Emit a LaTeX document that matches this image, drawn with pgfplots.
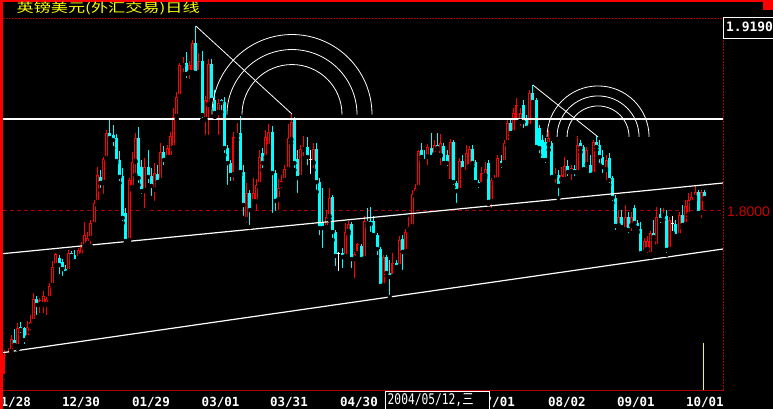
\documentclass[border=0pt]{standalone}
\usepackage{pgfplots}
\pgfplotsset{compat=1.18}
\usepackage{pgfplotstable}
\usepackage{graphicx}
\usepackage{fontspec}
\newfontfamily\mono{DejaVu Sans Mono}
\newfontfamily\cjk{Noto Sans CJK SC}
\newfontfamily\lsans{Liberation Sans}
\definecolor{cRed}{RGB}{255,0,0}
\definecolor{cCyan}{RGB}{0,255,255}
\definecolor{dRed}{RGB}{170,0,0}
\definecolor{lRed}{RGB}{200,0,0}
\definecolor{tYel}{RGB}{255,255,0}

% GBP/USD daily candles: index, open, high, low, close
\pgfplotstableread{
i o h l c
0 1.6926 1.7101 1.6893 1.7068
1 1.7062 1.7114 1.7042 1.7088
2 1.7088 1.7198 1.7075 1.7172
3 1.7165 1.7236 1.7120 1.7133
4 1.7120 1.7275 1.7107 1.7243
5 1.7250 1.7282 1.7198 1.7230
6 1.7243 1.7250 1.7127 1.7165
7 1.7178 1.7288 1.7146 1.7250
8 1.7250 1.7327 1.7217 1.7282
9 1.7282 1.7469 1.7269 1.7430
10 1.7430 1.7450 1.7314 1.7392
11 1.7392 1.7437 1.7327 1.7424
12 1.7392 1.7482 1.7327 1.7450
13 1.7392 1.7443 1.7314 1.7430
14 1.7430 1.7534 1.7398 1.7515
15 1.7515 1.7676 1.7502 1.7637
16 1.7644 1.7728 1.7631 1.7722
17 1.7695 1.7715 1.7579 1.7650
18 1.7670 1.7689 1.7566 1.7624
19 1.7624 1.7650 1.7592 1.7599
20 1.7605 1.7748 1.7599 1.7728
21 1.7728 1.7741 1.7695 1.7709
22 1.7715 1.7748 1.7670 1.7676
23 1.7689 1.7760 1.7676 1.7748
24 1.7709 1.7799 1.7695 1.7767
25 1.7767 1.7929 1.7754 1.7844
26 1.7786 1.7864 1.7773 1.7825
27 1.7819 1.7942 1.7773 1.7922
28 1.7909 1.8071 1.7896 1.8052
29 1.8052 1.8284 1.8039 1.8233
30 1.8220 1.8265 1.8136 1.8181
31 1.8181 1.8349 1.8097 1.8336
32 1.8336 1.8524 1.8330 1.8504
33 1.8504 1.8601 1.8459 1.8472
34 1.8491 1.8556 1.8407 1.8459
35 1.8472 1.8498 1.8310 1.8323
36 1.8330 1.8388 1.8181 1.8220
37 1.8226 1.8278 1.7922 1.7955
38 1.7987 1.8019 1.7793 1.7806
39 1.7806 1.8213 1.7793 1.8200
40 1.8149 1.8382 1.8136 1.8317
41 1.8317 1.8504 1.8233 1.8472
42 1.8472 1.8543 1.8168 1.8213
43 1.8284 1.8330 1.8097 1.8129
44 1.8129 1.8343 1.8006 1.8284
45 1.8284 1.8395 1.8168 1.8220
46 1.8226 1.8278 1.8084 1.8162
47 1.8136 1.8310 1.8052 1.8246
48 1.8239 1.8297 1.8168 1.8187
49 1.8194 1.8440 1.8181 1.8382
50 1.8382 1.8420 1.8284 1.8330
51 1.8343 1.8427 1.8323 1.8407
52 1.8343 1.8511 1.8330 1.8485
53 1.8407 1.8666 1.8395 1.8608
54 1.8608 1.8770 1.8595 1.8737
55 1.8737 1.8958 1.8724 1.8945
56 1.8938 1.8996 1.8886 1.8958
57 1.8958 1.9028 1.8847 1.8886
58 1.8893 1.8970 1.8841 1.8945
59 1.8893 1.9106 1.8886 1.9087
60 1.9087 1.9197 1.8886 1.8893
61 1.8893 1.9022 1.8880 1.8970
62 1.8970 1.9035 1.8589 1.8621
63 1.8589 1.8744 1.8478 1.8718
64 1.8686 1.8983 1.8478 1.8951
65 1.8951 1.8983 1.8705 1.8718
66 1.8718 1.8783 1.8608 1.8634
67 1.8634 1.8724 1.8478 1.8699
68 1.8718 1.8724 1.8640 1.8699
69 1.8705 1.8737 1.8362 1.8407
70 1.8407 1.8427 1.8155 1.8310
71 1.8310 1.8330 1.8181 1.8233
72 1.8233 1.8511 1.8181 1.8478
73 1.8485 1.8569 1.8459 1.8504
74 1.8504 1.8614 1.8233 1.8252
75 1.8252 1.8297 1.7955 1.8039
76 1.7942 1.8181 1.7909 1.8116
77 1.8116 1.8136 1.7896 1.8006
78 1.8058 1.8213 1.8032 1.8116
79 1.8058 1.8207 1.7987 1.8168
80 1.8168 1.8395 1.8155 1.8349
81 1.8375 1.8407 1.8265 1.8310
82 1.8343 1.8524 1.8330 1.8478
83 1.8414 1.8563 1.8401 1.8511
84 1.8511 1.8550 1.7974 1.8246
85 1.8246 1.8265 1.7987 1.8065
86 1.8071 1.8207 1.7993 1.8149
87 1.8168 1.8233 1.8136 1.8194
88 1.8194 1.8297 1.8181 1.8271
89 1.8265 1.8563 1.8252 1.8472
90 1.8459 1.8627 1.8440 1.8576
91 1.8595 1.8608 1.8265 1.8310
92 1.8336 1.8395 1.8103 1.8213
93 1.8213 1.8427 1.8200 1.8401
94 1.8395 1.8485 1.8343 1.8414
95 1.8414 1.8478 1.8284 1.8349
96 1.8330 1.8395 1.8226 1.8330
97 1.8310 1.8440 1.8265 1.8401
98 1.8401 1.8440 1.8123 1.8187
99 1.8187 1.8213 1.7831 1.7890
100 1.7929 1.8149 1.7748 1.7890
101 1.7890 1.8006 1.7864 1.7961
102 1.7961 1.8149 1.7942 1.8084
103 1.8090 1.8103 1.7812 1.7864
104 1.7864 1.7877 1.7631 1.7709
105 1.7722 1.7735 1.7599 1.7722
106 1.7728 1.7760 1.7618 1.7702
107 1.7702 1.7922 1.7689 1.7864
108 1.7864 1.7935 1.7851 1.7916
109 1.7916 1.7929 1.7618 1.7689
110 1.7689 1.7735 1.7553 1.7722
111 1.7722 1.7793 1.7709 1.7786
112 1.7773 1.7786 1.7670 1.7689
113 1.7689 1.7968 1.7676 1.7935
114 1.7935 1.8019 1.7903 1.7922
115 1.7935 1.8026 1.7851 1.7916
116 1.7935 1.7968 1.7831 1.7844
117 1.7844 1.7857 1.7702 1.7754
118 1.7754 1.7767 1.7508 1.7515
119 1.7515 1.7715 1.7502 1.7702
120 1.7702 1.7715 1.7579 1.7599
121 1.7599 1.7683 1.7443 1.7573
122 1.7573 1.7728 1.7553 1.7663
123 1.7663 1.7683 1.7618 1.7637
124 1.7637 1.7838 1.7618 1.7812
125 1.7819 1.7844 1.7605 1.7735
126 1.7735 1.7883 1.7715 1.7864
127 1.7877 1.7961 1.7864 1.7896
128 1.7896 1.8136 1.7877 1.8110
129 1.8110 1.8174 1.8097 1.8149
130 1.8149 1.8395 1.8136 1.8388
131 1.8395 1.8440 1.8330 1.8349
132 1.8330 1.8395 1.8297 1.8323
133 1.8349 1.8433 1.8284 1.8414
134 1.8407 1.8504 1.8336 1.8349
135 1.8362 1.8459 1.8349 1.8427
136 1.8427 1.8504 1.8395 1.8407
137 1.8356 1.8498 1.8284 1.8440
138 1.8420 1.8440 1.8297 1.8310
139 1.8362 1.8395 1.8278 1.8310
140 1.8187 1.8466 1.8174 1.8446
141 1.8446 1.8459 1.8155 1.8187
142 1.8181 1.8194 1.8039 1.8129
143 1.8129 1.8343 1.8116 1.8323
144 1.8323 1.8362 1.8252 1.8271
145 1.8246 1.8427 1.8233 1.8375
146 1.8284 1.8420 1.8265 1.8401
147 1.8401 1.8427 1.8291 1.8310
148 1.8317 1.8330 1.8168 1.8187
149 1.8187 1.8200 1.8136 1.8168
150 1.8168 1.8284 1.8155 1.8246
151 1.8226 1.8317 1.8213 1.8271
152 1.8310 1.8330 1.8045 1.8058
153 1.8058 1.8213 1.8006 1.8200
154 1.8194 1.8233 1.8174 1.8207
155 1.8200 1.8362 1.8187 1.8343
156 1.8323 1.8362 1.8265 1.8297
157 1.8310 1.8459 1.8297 1.8440
158 1.8440 1.8601 1.8427 1.8569
159 1.8569 1.8601 1.8478 1.8504
160 1.8504 1.8666 1.8491 1.8634
161 1.8569 1.8731 1.8550 1.8686
162 1.8576 1.8666 1.8537 1.8634
163 1.8686 1.8718 1.8524 1.8576
164 1.8589 1.8621 1.8511 1.8537
165 1.8543 1.8783 1.8524 1.8763
166 1.8763 1.8815 1.8686 1.8705
167 1.8718 1.8731 1.8395 1.8414
168 1.8537 1.8556 1.8362 1.8407
169 1.8459 1.8491 1.8317 1.8330
170 1.8446 1.8472 1.8297 1.8330
171 1.8427 1.8524 1.8395 1.8472
172 1.8440 1.8453 1.8200 1.8220
173 1.8220 1.8278 1.8168 1.8233
174 1.8233 1.8265 1.8084 1.8162
175 1.8200 1.8284 1.8168 1.8233
176 1.8200 1.8349 1.8187 1.8291
177 1.8291 1.8330 1.8213 1.8252
178 1.8252 1.8297 1.8187 1.8278
179 1.8271 1.8297 1.8213 1.8252
180 1.8246 1.8485 1.8233 1.8427
181 1.8440 1.8459 1.8382 1.8407
182 1.8414 1.8427 1.8252 1.8271
183 1.8297 1.8414 1.8265 1.8395
184 1.8297 1.8362 1.8213 1.8233
185 1.8233 1.8459 1.8213 1.8446
186 1.8446 1.8485 1.8395 1.8414
187 1.8427 1.8459 1.8297 1.8349
188 1.8349 1.8395 1.8233 1.8284
189 1.8265 1.8362 1.8187 1.8330
190 1.8343 1.8375 1.8168 1.8200
191 1.8213 1.8226 1.8052 1.8084
192 1.8084 1.8103 1.7864 1.7903
193 1.7903 1.8006 1.7890 1.7961
194 1.7961 1.8006 1.7877 1.7896
195 1.7877 1.8039 1.7864 1.7961
196 1.7961 1.7993 1.7844 1.7877
197 1.7903 1.7993 1.7857 1.7961
198 1.8019 1.8039 1.7903 1.7922
199 1.7922 1.7942 1.7864 1.7890
200 1.7883 1.7929 1.7715 1.7728
201 1.7728 1.7825 1.7709 1.7806
202 1.7748 1.7838 1.7715 1.7806
203 1.7715 1.7870 1.7702 1.7857
204 1.7857 1.7942 1.7812 1.7831
205 1.7767 1.8026 1.7754 1.7961
206 1.7980 1.8019 1.7909 1.7942
207 1.7968 1.8019 1.7942 1.7980
208 1.7968 1.8006 1.7715 1.7748
209 1.7748 1.7961 1.7728 1.7942
210 1.7916 1.7968 1.7857 1.7916
211 1.7916 1.7942 1.7825 1.7838
212 1.7838 1.7993 1.7825 1.7974
213 1.7974 1.8039 1.7890 1.7909
214 1.7909 1.8071 1.7890 1.8032
215 1.7974 1.8116 1.7955 1.8071
216 1.8052 1.8123 1.8032 1.8090
217 1.8084 1.8162 1.8071 1.8123
218 1.8123 1.8136 1.7968 1.7987
219 1.7987 1.8136 1.7942 1.8123
220 1.8123 1.8136 1.8071 1.8084
}\gbpusd

\pgfplotsset{
  candle/.style={only marks, mark=none, forget plot,
    error bars/y dir=plus, error bars/y explicit, error bars/error mark=none},
}

\begin{document}
\begin{tikzpicture}
\path[use as bounding box] (0,0) rectangle (773bp,409bp);
\clip (0,0) rectangle (773bp,409bp);
\fill[black] (0,0) rectangle (773bp,409bp);

\begin{axis}[
  at={(3bp,19bp)}, anchor=south west,
  scale only axis, width=720bp, height=371bp,
  xmin=-0.629, xmax=225.79, ymin=1.6842, ymax=1.9242,
  axis line style={draw=none},
  tick style={draw=none},
  ytick=\empty,
  xtick={2.2,23.9,45.9,67.8,89.3,111.3,133,154.4,176.7,198.4,220.1},
  xticklabels={11/28,12/30,01/29,03/01,03/31,04/30,05/31,07/01,08/02,09/01,10/01},
  xticklabel style={text=white, font=\mono\bfseries\fontsize{12.6}{12.6}\selectfont,
    anchor=base, yshift=-16.5bp, inner sep=0pt},
  clip=true,
]
% reference level
\addplot[dRed, line width=1bp, dash pattern=on 4bp off 3bp, forget plot]
  coordinates {(-0.63,1.8) (225.8,1.8)};

% wicks
\addplot[candle, error bars/error bar style={draw=cRed, line width=1bp}]
  table[x=i, y expr={\thisrow{c}>\thisrow{o} ? \thisrow{l} : nan},
        y error expr={\thisrow{h}-\thisrow{l}}] {\gbpusd};
\addplot[candle, error bars/error bar style={draw=cCyan, line width=1bp}]
  table[x=i, y expr={\thisrow{c}<\thisrow{o} ? \thisrow{l} : nan},
        y error expr={\thisrow{h}-\thisrow{l}}] {\gbpusd};
\addplot[candle, error bars/error bar style={draw=white, line width=1bp}]
  table[x=i, y expr={\thisrow{c}==\thisrow{o} ? \thisrow{l} : nan},
        y error expr={\thisrow{h}-\thisrow{l}}] {\gbpusd};

% rising bodies: red outline, hollow
\addplot[candle, error bars/error bar style={draw=cRed, line width=3bp}]
  table[x=i, y expr={\thisrow{c}>\thisrow{o} ? \thisrow{o} : nan},
        y error expr={\thisrow{c}-\thisrow{o}}] {\gbpusd};
\addplot[candle, error bars/error bar style={draw=black, line width=0.9bp}]
  table[x=i, y expr={\thisrow{c}>\thisrow{o} ? \thisrow{o}+0.00065 : nan},
        y error expr={max(\thisrow{c}-\thisrow{o}-0.0013,0)}] {\gbpusd};
% falling bodies: solid cyan
\addplot[candle, error bars/error bar style={draw=cCyan, line width=3bp}]
  table[x=i, y expr={\thisrow{c}<\thisrow{o} ? \thisrow{c} : nan},
        y error expr={max(\thisrow{o}-\thisrow{c},0.0007)}] {\gbpusd};
% unchanged sessions
\addplot[only marks, mark=-, mark size=1.5bp, mark options={white, line width=1bp}, forget plot]
  table[x=i, y expr={\thisrow{c}==\thisrow{o} ? \thisrow{c} : nan}] {\gbpusd};

% horizontal resistance and channel lines
\addplot[white, line width=1.5bp] coordinates {(-0.63,1.8595) (225.8,1.8595)};
\addplot[white, line width=1.2bp] coordinates {(-0.63,1.7724) (225.79,1.8181)};
\addplot[white, line width=1.2bp] coordinates {(-1.572,1.7081) (225.79,1.7754)};
% swing lines, their end points anchor the Fibonacci arcs
\addplot[white, line width=0.8bp] coordinates {(60,1.9197) (90.25,1.8627)};
\addplot[white, line width=0.8bp] coordinates {(166,1.8815) (186.5,1.8479)};
\coordinate (fa) at (axis cs:90.25,1.8624);
\coordinate (fb) at (axis cs:186.5,1.8479);
\end{axis}

\begin{scope}[x=1bp,y=1bp]
% Fibonacci arcs (0.382, 0.5, 0.618 of each swing)
\foreach \r in {80,65,50}
  \draw[white, line width=0.8bp] (fa) ++(\r bp,0) arc[start angle=0,end angle=180,radius=\r bp];
\foreach \r in {51,41,31}
  \draw[white, line width=0.8bp] (fb) ++(\r bp,0) arc[start angle=0,end angle=180,radius=\r bp];
% frame
\draw[dRed, line width=1bp, dash pattern=on 2bp off 1bp] (3,390) -- (723.5,390) -- (723.5,18.5);
\draw[dRed, line width=1bp] (3,18.5) -- (723.5,18.5);
\fill[cRed] (0,0) rectangle (3,409);
\fill[cRed] (0,406.6) rectangle (773,409);
\fill[cRed] (763,399) rectangle (773,409);
% cursor
\draw[tYel, line width=1bp] (703.5,66) -- (703.5,19);
% title
\node[anchor=west, inner sep=0pt, text=tYel] at (16.5,401)
  {\scalebox{1}[0.73]{\cjk\fontsize{17.2}{17.2}\selectfont 英镑美元(外汇交易)日线}};
% high price box
\draw[white, line width=1bp] (723.5,391.5) rectangle (790,370);
\node[anchor=west, inner sep=0pt, text=white, font=\mono\bfseries\fontsize{13}{13}\selectfont]
  at (726,382) {1.9190};
% reference price
\node[anchor=west, inner sep=0pt, text=lRed, font=\lsans\fontsize{14}{14}\selectfont]
  at (727,197.5) {1.8000};
% date box
\filldraw[draw=white, fill=black, line width=1bp] (385.5,17.5) rectangle (489.5,-3);
\node[anchor=west, inner sep=0pt, text=white] at (387.5,8.5)
  {\scalebox{1}[1.3]{\mono\fontsize{11.3}{11.3}\selectfont 2004/05/12,{\cjk 三}}};
\end{scope}
\end{tikzpicture}
\end{document}
